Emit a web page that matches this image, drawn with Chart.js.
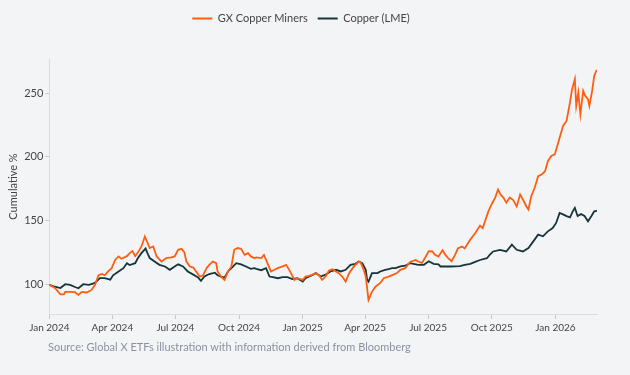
<!DOCTYPE html>
<html>
<head>
<meta charset="utf-8">
<script src="https://cdn.jsdelivr.net/npm/chart.js@4"></script>
<style>
  body { margin: 0; background: #f3f4f6; }
  #wrap { position: relative; width: 630px; height: 375px; }
  #source {
    position: absolute; left: 48px; top: 340px;
    font: 11px Lato, sans-serif; color: #8b91a3;
  }
</style>
</head>
<body>
<div id="wrap">
  <canvas id="chart" width="630" height="375"></canvas>
  <div id="source">Source: Global X ETFs illustration with information derived from Bloomberg</div>
</div>
<script>
// days since 1 Jan 2024
const gxDays = [0, 8, 16, 21, 23, 28, 32, 37, 42, 47, 54, 61, 66, 71, 76, 80, 85, 90, 95, 100,
  104, 112, 116, 120, 124, 128, 133, 138, 145, 150, 155, 162, 169, 176, 181, 186, 191, 195, 198, 203,
  208, 212, 217, 222, 227, 231, 236, 241, 243, 248, 253, 258, 263, 267, 272, 277, 282, 287, 291, 296,
  299, 306, 310, 315, 320, 325, 330, 337, 342, 345, 349, 354, 358, 366, 370, 375, 380, 385, 390, 394,
  399, 404, 409, 414, 418, 423, 428, 433, 438, 442, 447, 450, 454, 457, 461, 466, 471, 478, 483, 490,
  497, 502, 507, 514, 521, 529, 533, 538, 543, 548, 553, 557, 562, 568, 572, 576, 581, 586, 590, 596,
  600, 608, 615, 622, 626, 629, 634, 639, 644, 648, 651, 656, 660, 665, 670, 675, 680, 684, 689, 692,
  696, 701, 706, 711, 716, 720, 725, 730, 735, 737, 742, 747, 752, 755, 759, 761, 764, 767, 771, 774,
  778, 780, 784, 787, 790, 791];
const gxValues = [99.5, 97, 92, 92, 94, 94, 94, 93.7, 91.6, 94, 93.5, 95.5, 99.5, 107, 108, 107, 110, 112.6, 119, 121.8,
  120, 122, 124.4, 126, 122, 125, 129.6, 137.5, 128.4, 129.6, 121.8, 117.8, 120.5, 121, 121.8, 127, 127.8, 125, 117.8, 113.9,
  113, 110, 106, 107, 112.6, 115.2, 117.8, 116.5, 110, 106, 103.4, 110, 113.9, 127, 128.4, 127.8, 123, 124.4, 121.8, 120.5,
  121, 120.5, 123, 116.5, 110, 111.3, 112.6, 114, 115.2, 112.6, 108.7, 103.4, 104.7, 103.4, 106, 106.6, 107.5, 108.7, 106.6, 103.4,
  106, 110.7, 111.8, 110, 108.7, 106, 102, 108.7, 112.6, 115.2, 117.8, 116.5, 111.3, 106, 87.6, 94, 98, 101, 104.7, 106,
  107.5, 108.7, 111.3, 112.6, 117.5, 119, 117.8, 116.5, 121, 126, 125.8, 123, 121.7, 126.7, 123, 120.5, 118, 123, 128, 129.6,
  128, 135, 140, 146, 144, 149, 157, 163, 168, 174.3, 171, 167.8, 164, 168, 166, 161, 170.4, 166.5, 161, 158.6,
  169, 175.7, 184.8, 186.1, 188.7, 196.6, 200.6, 201.9, 211.1, 215, 224.2, 228.2, 242.7, 253.1, 261, 240, 250.4, 233.4, 251.8, 247.8,
  245.2, 240, 251.8, 263.6, 267.6, 268];

const cuDays = [0, 8, 16, 23, 30, 37, 42, 49, 57, 64, 68, 73, 80, 88, 92, 100, 107, 112, 116, 124,
  128, 133, 139, 142, 145, 152, 159, 167, 174, 181, 186, 193, 200, 208, 215, 219, 224, 231, 239, 243,
  248, 253, 258, 263, 270, 277, 284, 291, 296, 299, 306, 313, 318, 323, 330, 337, 344, 351, 358, 366,
  370, 378, 385, 392, 399, 406, 414, 421, 428, 435, 442, 447, 452, 457, 459, 461, 466, 474, 478, 485,
  490, 495, 500, 507, 514, 521, 526, 533, 541, 548, 555, 562, 565, 572, 579, 586, 593, 600, 608, 615,
  622, 632, 636, 641, 651, 660, 668, 675, 684, 692, 699, 706, 713, 720, 727, 732, 737, 742, 747, 752,
  756, 759, 763, 768, 773, 778, 783, 787, 791];
const cuValues = [99.5, 98, 97, 100, 99.5, 97.8, 96.8, 100, 99.5, 100.6, 102, 104.7, 104.7, 103.5, 107, 110, 112.6, 116.5, 115, 116.5,
  120.5, 124.4, 128, 124, 120.5, 117.8, 115.2, 113.9, 111.3, 113.9, 115.6, 113.9, 110, 107.5, 105.2, 102.6, 106, 108, 109, 107,
  106, 105.2, 110, 112.6, 116.5, 115.6, 113.9, 112, 112.6, 112, 111, 112.6, 106, 105.5, 104.7, 105.5, 105.5, 104, 104.7, 102,
  104.7, 106.6, 108.7, 106, 107.5, 110, 111.3, 110, 111.3, 115.2, 116, 117.8, 116.5, 111.3, 103.4, 102, 108.7, 108.7, 110, 111.3,
  111.8, 112.6, 112.6, 114, 114.5, 116.5, 116, 115.2, 115.2, 118, 116, 115.5, 113.9, 113.9, 113.9, 114, 114.2, 115.2, 116, 117.5,
  119, 120.4, 123, 125.7, 127, 125.7, 131, 127, 125.7, 128.4, 133.6, 138.9, 137.6, 141.5, 144.1, 148.1, 156, 154.8, 153.5, 152.5,
  157.2, 159.9, 153.5, 155, 153.5, 149.4, 153.5, 157.2, 157.5];

const tickDays = [0, 91, 182, 274, 366, 456, 547, 639, 731];
const tickLabels = ["Jan 2024", "Apr 2024", "Jul 2024", "Oct 2024", "Jan 2025", "Apr 2025", "Jul 2025", "Oct 2025", "Jan 2026"];
const yTicks = [100, 150, 200, 250];

const orange = "#fe5e10";
const dark = "#14353a";
const font = "Lato, sans-serif";

const toPoints = (days, vals) => days.map((d, i) => ({ x: d, y: vals[i] }));

// extra room under the legend, like the original
const legendGap = {
  id: "legendGap",
  beforeInit(chart) {
    const fit = chart.legend.fit;
    chart.legend.fit = function () {
      fit.bind(chart.legend)();
      this.height += 25;
    };
  },
};

new Chart(document.getElementById("chart"), {
  type: "line",
  plugins: [legendGap],
  data: {
    datasets: [
      {
        label: "GX Copper Miners",
        data: toPoints(gxDays, gxValues),
        borderColor: orange,
        backgroundColor: orange,
        borderWidth: 1.8,
        pointRadius: 0,
      },
      {
        label: "Copper (LME)",
        data: toPoints(cuDays, cuValues),
        borderColor: dark,
        backgroundColor: dark,
        borderWidth: 1.8,
        pointRadius: 0,
      },
    ],
  },
  options: {
    responsive: false,
    animation: false,
    devicePixelRatio: 1,
    layout: { padding: { left: 5, right: 33, top: 3, bottom: 38 } },
    plugins: {
      tooltip: { enabled: false },
      legend: {
        position: "top",
        labels: {
          font: { family: font, size: 11 },
          color: "#444",
          boxWidth: 20,
          boxHeight: 2,
          padding: 10,
          generateLabels: (chart) =>
            Chart.defaults.plugins.legend.labels
              .generateLabels(chart)
              .map((l) => ({ ...l, lineWidth: 0 })),
        },
      },
    },
    scales: {
      x: {
        type: "linear",
        min: 0,
        max: 791,
        afterBuildTicks: (axis) => {
          axis.ticks = tickDays.map((d) => ({ value: d }));
        },
        ticks: {
          autoSkip: false,
          maxRotation: 0,
          font: { family: font, size: 10 },
          color: "#444",
          callback: (v) => tickLabels[tickDays.indexOf(v)],
        },
        grid: { drawOnChartArea: false, tickLength: 5, color: "#c8c8c8" },
        border: { color: "#dcdcdc" },
      },
      y: {
        min: 76.6,
        max: 276.8,
        afterBuildTicks: (axis) => {
          axis.ticks = yTicks.map((v) => ({ value: v }));
        },
        ticks: {
          font: { family: font, size: 11 },
          color: "#444",
          padding: 2,
        },
        grid: { drawOnChartArea: false, tickLength: 4, color: "#c8c8c8" },
        border: { color: "#dcdcdc" },
        title: {
          display: true,
          text: "Cumulative %",
          font: { family: font, size: 11 },
          color: "#444",
          padding: { top: 2, bottom: 2 },
        },
      },
    },
  },
});
</script>
</body>
</html>
